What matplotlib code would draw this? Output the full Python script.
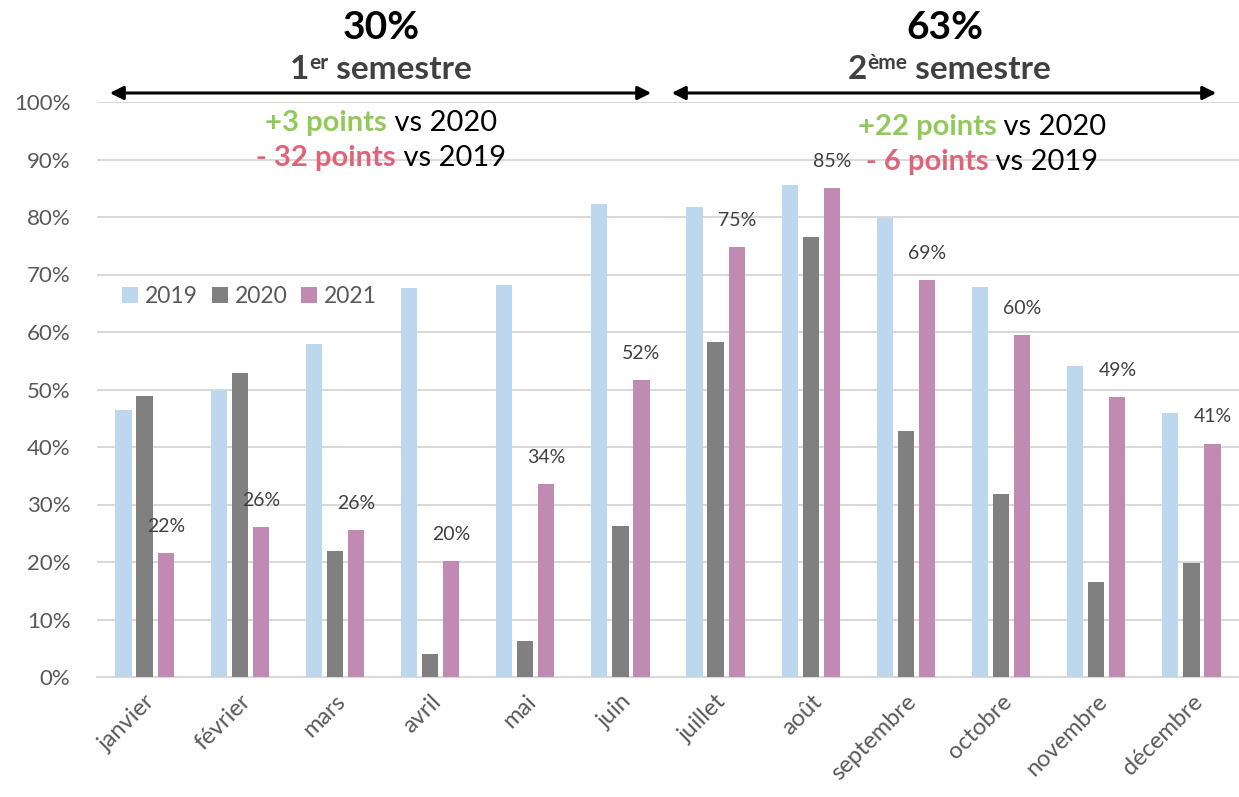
import numpy as np
import matplotlib
matplotlib.use("Agg")
import matplotlib.pyplot as plt
from matplotlib.ticker import PercentFormatter

plt.rcParams['font.family'] = ['Lato', 'DejaVu Sans']

# données
mois = ['janvier', 'février', 'mars', 'avril', 'mai', 'juin', 'juillet',
        'août', 'septembre', 'octobre', 'novembre', 'décembre']
v2019 = [46.4, 49.9, 58.0, 67.6, 68.1, 82.2, 81.7, 85.5, 79.9, 67.8, 54.1, 45.9]
v2020 = [48.8, 52.9, 22.0, 4.0, 6.2, 26.3, 58.3, 76.6, 42.7, 31.9, 16.5, 19.9]
v2021 = [21.5, 26.1, 25.6, 20.1, 33.6, 51.6, 74.8, 85.0, 69.0, 59.5, 48.7, 40.6]
annees = ['2019', '2020', '2021']
couleurs = ['#BDD7EE', '#808080', '#C18AB3']

W, H = 1239, 797
fig = plt.figure(figsize=(W / 100, H / 100), dpi=100)
ax = fig.add_axes([97 / W, 1 - 677 / H, 1142 / W, 575 / H])

x = np.arange(len(mois))
larg = 0.17
pas = 0.222
for i, (vals, c, lab) in enumerate(zip([v2019, v2020, v2021], couleurs, annees)):
    ax.bar(x + (i - 1) * pas, vals, width=larg, color=c, label=lab, zorder=3)

# étiquettes 2021
for xi, v in zip(x, v2021):
    ax.annotate(f"{round(v)}%", (xi + pas, v), xytext=(0, 13), textcoords='offset points',
                ha='center', va='bottom', fontsize=14, color='#404040', zorder=4)

ax.set_ylim(0, 100)
ax.set_xlim(-0.5, 11.5)
ax.set_yticks(np.arange(0, 101, 10))
ax.yaxis.set_major_formatter(PercentFormatter(decimals=0))
ax.grid(axis='y', color='#D9D9D9', linewidth=1.5, zorder=0)
ax.set_xticks(x)
ax.set_xticklabels(mois, rotation=45, ha='right', rotation_mode='anchor')
ax.tick_params(axis='both', length=0, labelcolor='#595959')
ax.tick_params(axis='y', pad=19, labelsize=16)
ax.tick_params(axis='x', pad=10, labelsize=17)
for s in ['top', 'right', 'left']:
    ax.spines[s].set_visible(False)
ax.spines['bottom'].set_color('#D9D9D9')
ax.spines['bottom'].set_linewidth(1.5)

leg = ax.legend(loc='center left', bbox_to_anchor=(0.004, 0.661), ncol=3, frameon=False,
                handlelength=0.7, handleheight=0.7, handletextpad=0.3,
                columnspacing=0.6, fontsize=16.5)
for t in leg.get_texts():
    t.set_color('#595959')

# flèches des semestres
for x0, x1 in [(107, 654), (669, 1219)]:
    fig.add_artist(matplotlib.patches.FancyArrowPatch(
        (x0 / W, 1 - 93 / H), (x1 / W, 1 - 93 / H), transform=fig.transFigure,
        arrowstyle='<|-|>', mutation_scale=20, color='black', linewidth=2.2))

renderer = fig.canvas.get_renderer()


def ligne(segments, cx, y):
    # segments : (texte, couleur, taille, gras, décalage vertical en px)
    arts = []
    for txt, col, size, bold, dy in segments:
        t = fig.text(0, 0, txt, color=col, fontsize=size,
                     fontweight='bold' if bold else 'normal', ha='left', va='baseline')
        arts.append((t, dy))
    largeurs = [t.get_window_extent(renderer).width for t, _ in arts]
    xs = cx - sum(largeurs) / 2
    for (t, dy), w in zip(arts, largeurs):
        t.set_position((xs / W, 1 - (y - dy) / H))
        xs += w


VERT = '#92C95A'
ROUGE = '#DE6479'
GRIS = '#404040'

ligne([('30%', 'black', 28, True, 0)], 381, 39)
ligne([('1', GRIS, 24, True, 0), ('er', GRIS, 15, True, 10), (' semestre', GRIS, 24, True, 0)], 381, 79)
ligne([('+3 points', VERT, 21, True, 0), (' vs 2020', 'black', 21, False, 0)], 381, 131)
ligne([('- 32 points', ROUGE, 21, True, 0), (' vs 2019', 'black', 21, False, 0)], 381, 166)

ligne([('63%', 'black', 28, True, 0)], 945, 39)
ligne([('2', GRIS, 24, True, 0), ('ème', GRIS, 15, True, 10), (' semestre', GRIS, 24, True, 0)], 949, 79)
ligne([('+22 points', VERT, 21, True, 0), (' vs 2020', 'black', 21, False, 0)], 982, 135)
ligne([('- 6 points', ROUGE, 21, True, 0), (' vs 2019', 'black', 21, False, 0)], 982, 170)

fig.savefig('out.png', dpi=100)
